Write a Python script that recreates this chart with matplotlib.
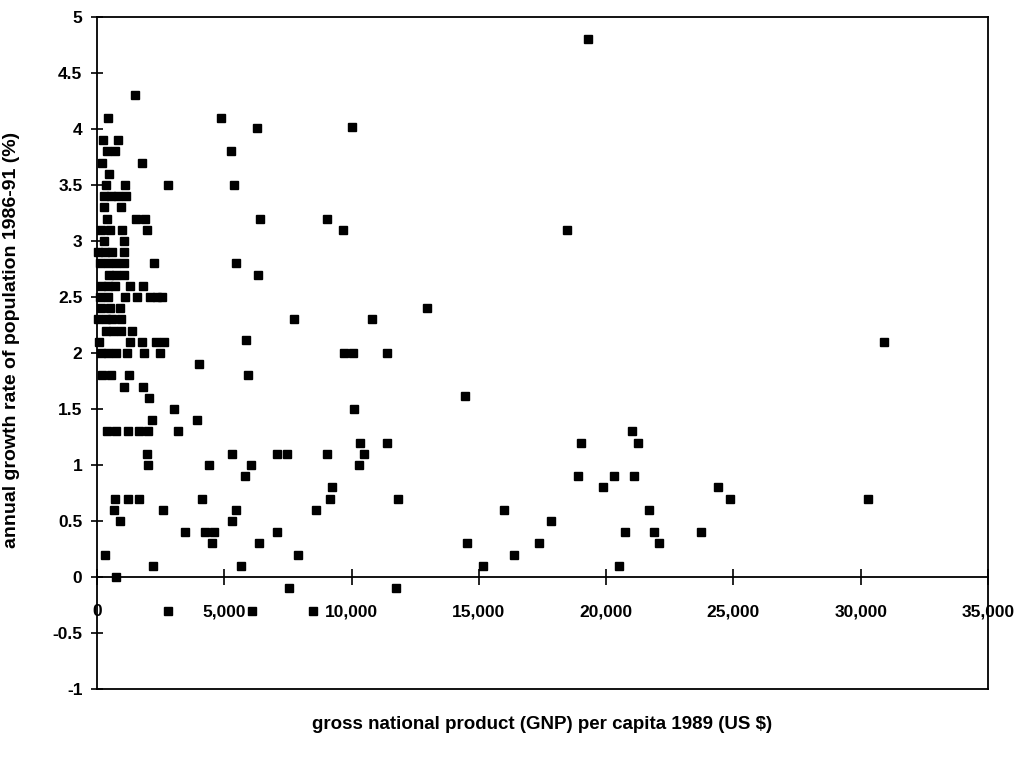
import matplotlib
matplotlib.use("Agg")
import matplotlib.pyplot as plt
from matplotlib.ticker import StrMethodFormatter, MultipleLocator

plt.rcParams['font.family'] = ['Liberation Sans', 'DejaVu Sans']
plt.rcParams['font.weight'] = 'bold'
plt.rcParams['axes.unicode_minus'] = False

# GNP per capita 1989 (US $) and annual population growth 1986-91 (%)
gnp = [19300, 1500, 430, 4880, 10000, 6300,
       240, 830, 390, 710, 5280, 200, 1770, 470,
       350, 1100, 2800, 5380, 280, 550, 830, 1140, 280, 950,
       390, 1540, 1890, 6420, 9040,
       160, 510, 980, 1970, 9660, 18460, 280, 1060,
       40, 300, 600, 1060,
       120, 430, 750, 1060, 2240, 5460,
       470, 750, 1060, 6340,
       160, 430, 710, 1300, 1810,
       120, 430, 1100, 1570, 2090, 2360, 2560,
       160, 510, 900, 12950,
       40, 350, 590, 950, 7730, 10810,
       350, 630, 950, 1380,
       80, 1300, 1770, 2320, 2640, 5870, 30900,
       160, 430, 750, 1180, 1850, 2480, 9720, 10040, 11380,
       4020, 200, 550, 1260, 5950, 1060, 1810,
       2050, 14450, 3030, 10080, 2170, 3940,
       390, 750, 1220, 1650, 2010, 3190, 21020,
       10350, 11380, 19020, 21260,
       1970, 5310, 7090, 7480, 9020, 10470,
       2000, 4410, 6060, 10280,
       5830, 18900, 20320, 21100,
       9250, 19880, 24410,
       710, 1220, 1650, 4130, 9170, 11810, 24880, 30280,
       670, 2600, 5470, 8620, 15980, 21690,
       910, 5310, 17830,
       3460, 4250, 4600, 7090, 20750, 21890, 23740,
       4530, 6380, 14530, 17360, 22090,
       310, 7910, 16380,
       2200, 5670, 15160, 20510,
       750, 7560, 11730, 2800, 6100, 8500]

growth = [4.8, 4.3, 4.1, 4.1, 4.02, 4.01,
          3.9, 3.9, 3.8, 3.8, 3.8, 3.7, 3.7, 3.6,
          3.5, 3.5, 3.5, 3.5, 3.4, 3.4, 3.4, 3.4, 3.3, 3.3,
          3.2, 3.2, 3.2, 3.2, 3.2,
          3.1, 3.1, 3.1, 3.1, 3.1, 3.1, 3.0, 3.0,
          2.9, 2.9, 2.9, 2.9,
          2.8, 2.8, 2.8, 2.8, 2.8, 2.8,
          2.7, 2.7, 2.7, 2.7,
          2.6, 2.6, 2.6, 2.6, 2.6,
          2.5, 2.5, 2.5, 2.5, 2.5, 2.5, 2.5,
          2.4, 2.4, 2.4, 2.4,
          2.3, 2.3, 2.3, 2.3, 2.3, 2.3,
          2.2, 2.2, 2.2, 2.2,
          2.1, 2.1, 2.1, 2.1, 2.1, 2.12, 2.1,
          2.0, 2.0, 2.0, 2.0, 2.0, 2.0, 2.0, 2.0, 2.0,
          1.9, 1.8, 1.8, 1.8, 1.8, 1.7, 1.7,
          1.6, 1.62, 1.5, 1.5, 1.4, 1.4,
          1.3, 1.3, 1.3, 1.3, 1.3, 1.3, 1.3,
          1.2, 1.2, 1.2, 1.2,
          1.1, 1.1, 1.1, 1.1, 1.1, 1.1,
          1.0, 1.0, 1.0, 1.0,
          0.9, 0.9, 0.9, 0.9,
          0.8, 0.8, 0.8,
          0.7, 0.7, 0.7, 0.7, 0.7, 0.7, 0.7, 0.7,
          0.6, 0.6, 0.6, 0.6, 0.6, 0.6,
          0.5, 0.5, 0.5,
          0.4, 0.4, 0.4, 0.4, 0.4, 0.4, 0.4,
          0.3, 0.3, 0.3, 0.3, 0.3,
          0.2, 0.2, 0.2,
          0.1, 0.1, 0.1, 0.1,
          0.0, -0.1, -0.1, -0.3, -0.3, -0.3]

fig = plt.figure(figsize=(10.22, 7.58), dpi=100)
ax = fig.add_axes([0.0949, 0.091, 0.8718, 0.8866])

ax.plot(gnp, growth, linestyle='none', marker='s', markersize=6,
        color='black', clip_on=False, zorder=3)

ax.set_xlim(0, 35000)
ax.set_ylim(-1, 5)
ax.xaxis.set_major_locator(MultipleLocator(5000))
ax.yaxis.set_major_locator(MultipleLocator(0.5))
ax.xaxis.set_major_formatter(StrMethodFormatter('{x:,.0f}'))
ax.yaxis.set_major_formatter(StrMethodFormatter('{x:g}'))

# x axis crosses at zero, box closed at the bottom
ax.spines['bottom'].set_position(('data', 0))
ax.axhline(-1, color='black', linewidth=1.3, clip_on=False, zorder=4)
for s in ['left', 'right', 'top', 'bottom']:
    ax.spines[s].set_linewidth(1.3)

ax.tick_params(axis='x', direction='inout', length=11, width=1.2, pad=14,
               labelsize=12.5)
ax.tick_params(axis='y', direction='inout', length=9, width=1.2, pad=6,
               labelsize=12.5)

ax.set_ylabel('annual growth rate of population 1986-91 (%)',
              fontsize=14, fontweight='bold')
ax.yaxis.set_label_coords(-0.086, 0.52)
ax.set_xlabel('gross national product (GNP) per capita 1989 (US $)',
              fontsize=13.5, fontweight='bold')
ax.xaxis.set_label_coords(0.5, -0.04)

fig.savefig('out.png', dpi=100)
